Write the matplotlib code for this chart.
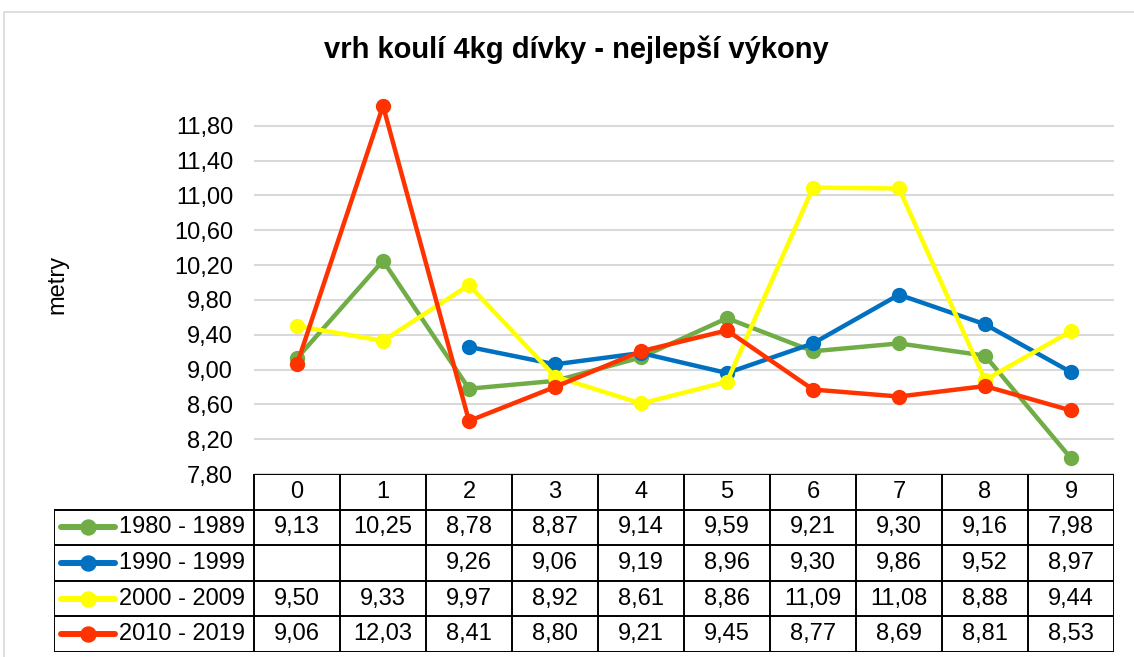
import numpy as np
import matplotlib
matplotlib.use("Agg")
from matplotlib import pyplot as plt
from matplotlib.patches import Rectangle
from matplotlib.lines import Line2D

plt.rcParams['font.family'] = ['Liberation Sans', 'DejaVu Sans']

title = 'vrh koulí 4kg dívky - nejlepší výkony'
categories = ['0', '1', '2', '3', '4', '5', '6', '7', '8', '9']
series_names = ['1980 - 1989', '1990 - 1999', '2000 - 2009', '2010 - 2019']
s1980 = [9.13, 10.25, 8.78, 8.87, 9.14, 9.59, 9.21, 9.30, 9.16, 7.98]
s1990 = [None, None, 9.26, 9.06, 9.19, 8.96, 9.30, 9.86, 9.52, 8.97]
s2000 = [9.50, 9.33, 9.97, 8.92, 8.61, 8.86, 11.09, 11.08, 8.88, 9.44]
s2010 = [9.06, 12.03, 8.41, 8.80, 9.21, 9.45, 8.77, 8.69, 8.81, 8.53]
colors = ['#70AD47', '#0070C0', '#FFFF00', '#FF3300']
yticks = [7.8, 8.2, 8.6, 9.0, 9.4, 9.8, 10.2, 10.6, 11.0, 11.4, 11.8]

W, H = 1134, 657
fig = plt.figure(figsize=(W / 100, H / 100), dpi=100)

# chart frame
fig.patches.append(Rectangle((4 / W, -0.01), 1.0, (H - 12) / H + 0.01, transform=fig.transFigure,
                             fill=False, edgecolor='#D9D9D9', linewidth=1.2))

def fx(px):
    return px / W

def fy(py):
    return 1 - py / H

# plot area
left, right, top, bottom = 254, 1114, 91, 474
ax = fig.add_axes([fx(left), fy(bottom), fx(right - left), (bottom - top) / H])
x = np.arange(len(categories))
all_series = [s1980, s1990, s2000, s2010]
for vals, col in zip(all_series, colors):
    y = np.array([np.nan if v is None else v for v in vals])
    ax.plot(x, y, '-', color=col, linewidth=3.2, marker='o', markersize=10,
            markeredgecolor=col, solid_capstyle='round', zorder=3)
ax.set_xlim(-0.5, len(categories) - 0.5)
ax.set_ylim(7.8, 12.2)
ax.set_yticks(yticks)
ax.set_yticklabels([f'{v:.2f}'.replace('.', ',') for v in yticks], fontsize=17)
ax.set_xticks([])
ax.tick_params(axis='y', length=0, pad=15)
ax.grid(axis='y', color='#D9D9D9', linewidth=1.5, zorder=0)
for s in ax.spines.values():
    s.set_visible(False)
ax.set_ylabel('metry', fontsize=17)
ax.yaxis.set_label_coords(-0.216, 0.495)

fig.text(fx(576), fy(50), title, ha='center', va='center', fontsize=21, fontweight='bold')

# data table
tleft, ttop, tbottom = 54, 474, 652
tab = fig.add_axes([fx(tleft), fy(tbottom), fx(right - tleft), (tbottom - ttop) / H])
ncol = len(categories)
colw = (right - left) / ncol
lab_w = (left - tleft) / colw
tab.set_xlim(-0.5 - lab_w, ncol - 0.5)
tab.set_ylim(5, 0)
tab.axis('off')
lk = dict(color='black', linewidth=1.4, solid_capstyle='projecting')
# header row
tab.plot([-0.5, ncol - 0.5], [0, 0], **lk)
for i in range(ncol + 1):
    tab.plot([i - 0.5, i - 0.5], [0, 5], **lk)
for j in range(1, 6):
    tab.plot([-0.5 - lab_w, ncol - 0.5], [j, j], **lk)
tab.plot([-0.5 - lab_w, -0.5 - lab_w], [1, 5], **lk)
for i, c in enumerate(categories):
    tab.text(i, 0.5, c, ha='center', va='center', fontsize=17)
for r, (name, vals, col) in enumerate(zip(series_names, all_series, colors)):
    yc = r + 1.5
    x0 = -0.5 - lab_w
    tab.add_line(Line2D([x0 + 0.08, x0 + 0.71], [yc, yc], color=col, linewidth=4.3, solid_capstyle='round'))
    tab.plot([x0 + 0.395], [yc], 'o', color=col, markersize=10.8)
    tab.text(x0 + 0.76, yc, name, ha='left', va='center', fontsize=17)
    for i, v in enumerate(vals):
        if v is not None:
            tab.text(i, yc, f'{v:.2f}'.replace('.', ','), ha='center', va='center', fontsize=17)

fig.savefig('out.png', dpi=100)
